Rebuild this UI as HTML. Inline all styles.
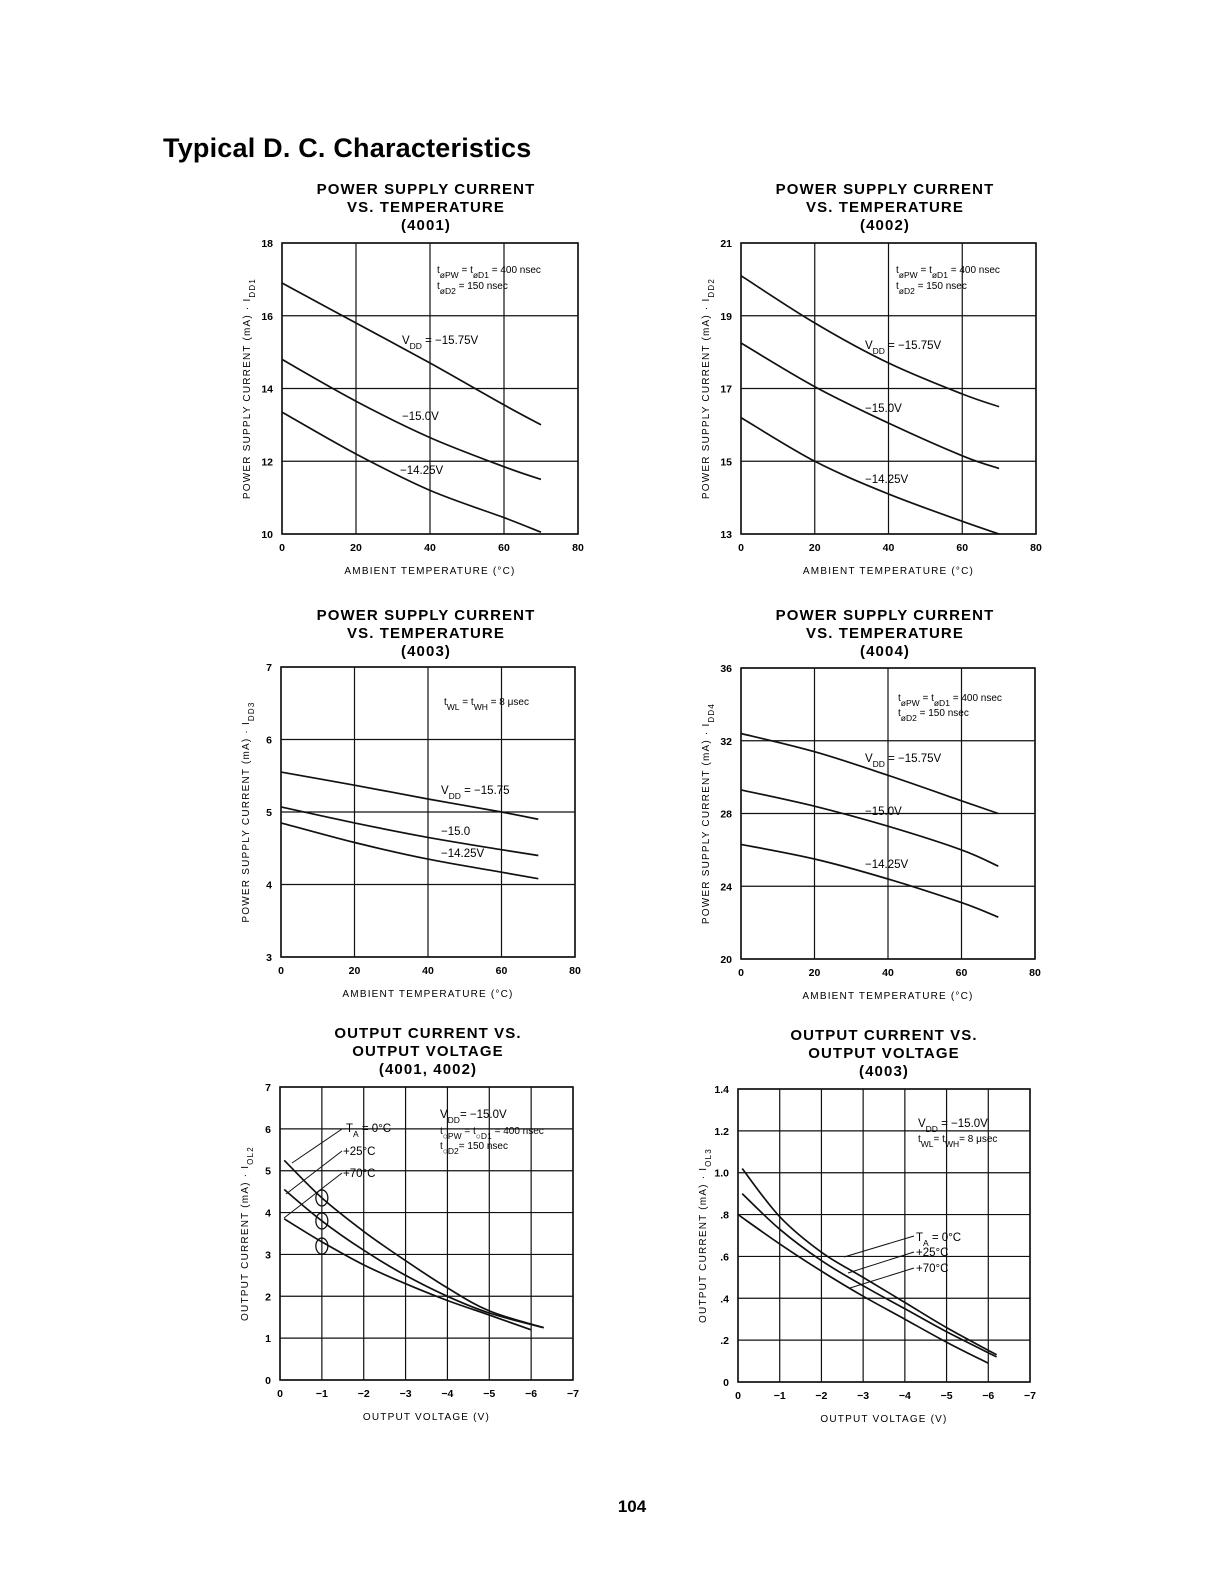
<!DOCTYPE html>
<html><head><meta charset="utf-8"><style>
body{margin:0;background:#fff;}
svg{display:block;font-family:"Liberation Sans",sans-serif;}
</style></head><body>
<svg id="page" width="1224" height="1584" viewBox="0 0 1224 1584" xmlns="http://www.w3.org/2000/svg">
<text x="163" y="157" font-size="27" font-weight="bold" letter-spacing="0.2">Typical D. C. Characteristics</text>
<text x="632" y="1512" font-size="17" font-weight="bold" text-anchor="middle">104</text>
<g id="charts"></g>
</svg>
<script>
// ---- Chart 1 (4001) data
const c1Temps = [0, 20, 40, 60, 70];
const c1V1575 = [16.9, 15.8, 14.7, 13.55, 13.0];
const c1V150 = [14.8, 13.65, 12.65, 11.85, 11.5];
const c1V1425 = [13.35, 12.2, 11.2, 10.45, 10.05];
const c1YTicks = [10, 12, 14, 16, 18];
// ---- Chart 2 (4002)
const c2Temps = [0, 20, 40, 60, 70];
const c2V1575 = [20.1, 18.8, 17.7, 16.85, 16.5];
const c2V150 = [18.25, 17.05, 16.05, 15.15, 14.8];
const c2V1425 = [16.2, 15.0, 14.1, 13.35, 13.0];
const c2YTicks = [13, 15, 17, 19, 21];
// ---- Chart 3 (4003)
const c3Temps = [0, 20, 40, 60, 70];
const c3V1575 = [5.55, 5.37, 5.18, 5.0, 4.9];
const c3V150 = [5.07, 4.85, 4.65, 4.48, 4.4];
const c3V1425 = [4.85, 4.58, 4.35, 4.17, 4.08];
const c3YTicks = [3, 4, 5, 6, 7];
// ---- Chart 4 (4004)
const c4Temps = [0, 20, 40, 60, 70];
const c4V1575 = [32.4, 31.4, 30.1, 28.7, 28.0];
const c4V150 = [29.3, 28.4, 27.3, 26.0, 25.1];
const c4V1425 = [26.3, 25.5, 24.4, 23.1, 22.3];
const c4YTicks = [20, 24, 28, 32, 36];
const tempTicks = [0, 20, 40, 60, 80];
// ---- Chart 5 (output current 4001/4002), voltage magnitude
const c5Volts = [0.1, 1, 2, 3, 4, 5, 6.3];
const c5T0 = [5.25, 4.35, 3.55, 2.85, 2.2, 1.65, 1.25];
const c5T25 = [4.55, 3.8, 3.1, 2.5, 2.0, 1.6, 1.25];
const c5Volts70 = [0.1, 1, 2, 3, 4, 5, 6];
const c5T70 = [3.85, 3.3, 2.75, 2.3, 1.9, 1.55, 1.2];
const c5YTicks = [0, 1, 2, 3, 4, 5, 6, 7];
// ---- Chart 6 (output current 4003)
const c6Volts = [0.1, 1, 2, 3, 4, 5, 6.2];
const c6T0 = [1.02, 0.79, 0.62, 0.50, 0.38, 0.26, 0.13];
const c6T25 = [0.90, 0.73, 0.58, 0.46, 0.35, 0.24, 0.12];
const c6Volts70 = [0, 1, 2, 3, 4, 5, 6];
const c6T70 = [0.80, 0.66, 0.53, 0.41, 0.30, 0.19, 0.09];
const c6YTicks = [0, 0.2, 0.4, 0.6, 0.8, 1.0, 1.2, 1.4];
const c6YLabels = ["0", ".2", ".4", ".6", ".8", "1.0", "1.2", "1.4"];
const voltTicks = [0, 1, 2, 3, 4, 5, 6, 7];
const voltLabels = ["0", "\u22121", "\u22122", "\u22123", "\u22124", "\u22125", "\u22126", "\u22127"];

const NS = "http://www.w3.org/2000/svg";
const root = document.getElementById('charts');
function mk(tag, attrs, parent, txt){
  const e = document.createElementNS(NS, tag);
  for (const k in attrs) e.setAttribute(k, attrs[k]);
  if (txt !== undefined) e.textContent = txt;
  (parent||root).appendChild(e);
  return e;
}
function smooth(pts){
  let d = "M" + pts[0][0].toFixed(1) + "," + pts[0][1].toFixed(1);
  for (let i = 0; i < pts.length - 1; i++){
    const p0 = pts[Math.max(0,i-1)], p1 = pts[i], p2 = pts[i+1], p3 = pts[Math.min(pts.length-1,i+2)];
    const c1x = p1[0] + (p2[0]-p0[0])/6, c1y = p1[1] + (p2[1]-p0[1])/6;
    const c2x = p2[0] - (p3[0]-p1[0])/6, c2y = p2[1] - (p3[1]-p1[1])/6;
    d += " C" + c1x.toFixed(1)+","+c1y.toFixed(1)+" "+c2x.toFixed(1)+","+c2y.toFixed(1)+" "+p2[0].toFixed(1)+","+p2[1].toFixed(1);
  }
  return d;
}
function chart(cfg){
  const g = mk('g', {});
  
  
  const X = v => cfg.L + (v - cfg.xmin) / (cfg.xmax - cfg.xmin) * (cfg.R - cfg.L);
  const Y = v => cfg.B - (v - cfg.ymin) / (cfg.ymax - cfg.ymin) * (cfg.B - cfg.T);
  cfg.title.forEach((t, i) => {
    const e = mk('text', {x: cfg.tx, y: cfg.ty + i*18, 'font-size': 15, 'font-weight': 'bold', 'text-anchor': 'middle', 'letter-spacing': '1.1'}, g, t);
    
    
  });
  cfg.xticks.forEach((v, i) => {
    const l = mk('line', {x1: X(v), x2: X(v), y1: cfg.T, y2: cfg.B, stroke: '#111', 'stroke-width': 1.2}, g);
    
    
    const t = mk('text', {x: X(v), y: cfg.B + 17, 'font-size': 10.5, 'font-weight': 'bold', 'text-anchor': 'middle'}, g, cfg.xlabels ? cfg.xlabels[i] : String(v));
    
    
  });
  cfg.yticks.forEach((v, i) => {
    const l = mk('line', {x1: cfg.L, x2: cfg.R, y1: Y(v), y2: Y(v), stroke: '#111', 'stroke-width': 1.2}, g);
    
    
    const t = mk('text', {x: cfg.L - 9, y: Y(v) + 4, 'font-size': 10.5, 'font-weight': 'bold', 'text-anchor': 'end'}, g, cfg.ylabels ? cfg.ylabels[i] : String(v));
    
    
  });
  const box = mk('rect', {x: cfg.L, y: cfg.T, width: cfg.R - cfg.L, height: cfg.B - cfg.T, fill: 'none', stroke: '#111', 'stroke-width': 1.6}, g);
  
  
  const xt = mk('text', {x: (cfg.L + cfg.R)/2, y: cfg.B + 40, 'font-size': 10, 'text-anchor': 'middle', 'letter-spacing': '1.2'}, g, cfg.xtitle);
  
  
  const yc = (cfg.T + cfg.B)/2, yx = cfg.L - 32;
  const yt = mk('text', {x: yx, y: yc, 'font-size': 10, 'text-anchor': 'middle', 'letter-spacing': '1.2', transform: 'rotate(-90 ' + yx + ' ' + yc + ')'}, g);
  
  
  mk('tspan', {}, yt, cfg.ytitle + ' I');
  mk('tspan', {'baseline-shift': 'sub', 'font-size': 8}, yt, cfg.ysub);
  cfg.series.forEach(s => {
    const pts = s.x.map((v, i) => [X(v), Y(s.y[i])]);
    const p = mk('path', {d: smooth(pts), fill: 'none', stroke: '#111', 'stroke-width': 1.7}, g);
    
    
  });
  cfg.notes.forEach(n => {
    const t = mk('text', {x: cfg.L + n[0], y: cfg.T + n[1], 'font-size': n[3] || 11.5, 'text-anchor': 'start'}, g);
    
    
    n[2].forEach(part => {
      mk('tspan', part[1] ? {'baseline-shift': 'sub', 'font-size': 8.5} : {}, t, part[0]);
    });
  });
  (cfg.leaders || []).forEach(ld => {
    const l = mk('line', {x1: cfg.L + ld[0], y1: cfg.T + ld[1], x2: cfg.L + ld[2], y2: cfg.T + ld[3], stroke: '#111', 'stroke-width': 1}, g);
    
    
  });
  return {g, X, Y};
}
const tempTitle = 'AMBIENT TEMPERATURE (\u00b0C)';
const psTitle = 'POWER SUPPLY CURRENT (mA) \u00b7';
function psNotes(a, b, c){
  return [
    [155, 30, [['t',0],['\u00f8PW',1],[' = t',0],['\u00f8D1',1],[' = 400 nsec',0]], 10],
    [155, 46, [['t',0],['\u00f8D2',1],[' = 150 nsec',0]], 10],
    [a[0], a[1], [['V',0],['DD',1],[' = \u221215.75V',0]]],
    [b[0], b[1], [['\u221215.0V',0]]],
    [c[0], c[1], [['\u221214.25V',0]]]
  ];
}
chart({name:'chart-4001', L:282, R:578, T:243, B:534, xmin:0, xmax:80, ymin:10, ymax:18,
  tx:426, ty:194, title:['POWER SUPPLY CURRENT','VS. TEMPERATURE','(4001)'],
  xticks:tempTicks, yticks:c1YTicks, xtitle:tempTitle, ytitle:psTitle, ysub:'DD1',
  series:[{name:'line-vdd-15.75',x:c1Temps,y:c1V1575},{name:'line-vdd-15.0',x:c1Temps,y:c1V150},{name:'line-vdd-14.25',x:c1Temps,y:c1V1425}],
  notes: psNotes([120,101],[120,177],[118,231])});
chart({name:'chart-4002', L:741, R:1036, T:243, B:534, xmin:0, xmax:80, ymin:13, ymax:21,
  tx:885, ty:194, title:['POWER SUPPLY CURRENT','VS. TEMPERATURE','(4002)'],
  xticks:tempTicks, yticks:c2YTicks, xtitle:tempTitle, ytitle:psTitle, ysub:'DD2',
  series:[{name:'line-vdd-15.75',x:c2Temps,y:c2V1575},{name:'line-vdd-15.0',x:c2Temps,y:c2V150},{name:'line-vdd-14.25',x:c2Temps,y:c2V1425}],
  notes: psNotes([124,106],[124,169],[124,240])});
chart({name:'chart-4003', L:281, R:575, T:667, B:957, xmin:0, xmax:80, ymin:3, ymax:7,
  tx:426, ty:620, title:['POWER SUPPLY CURRENT','VS. TEMPERATURE','(4003)'],
  xticks:tempTicks, yticks:c3YTicks, xtitle:tempTitle, ytitle:psTitle, ysub:'DD3',
  series:[{name:'line-vdd-15.75',x:c3Temps,y:c3V1575},{name:'line-vdd-15.0',x:c3Temps,y:c3V150},{name:'line-vdd-14.25',x:c3Temps,y:c3V1425}],
  notes:[[163,38,[['t',0],['WL',1],[' = t',0],['WH',1],[' = 8 \u03bcsec',0]],10],
         [160,127,[['V',0],['DD',1],[' = \u221215.75',0]]],
         [160,168,[['\u221215.0',0]]],[160,190,[['\u221214.25V',0]]]]});
chart({name:'chart-4004', L:741, R:1035, T:668, B:959, xmin:0, xmax:80, ymin:20, ymax:36,
  tx:885, ty:620, title:['POWER SUPPLY CURRENT','VS. TEMPERATURE','(4004)'],
  xticks:tempTicks, yticks:c4YTicks, xtitle:tempTitle, ytitle:psTitle, ysub:'DD4',
  series:[{name:'line-vdd-15.75',x:c4Temps,y:c4V1575},{name:'line-vdd-15.0',x:c4Temps,y:c4V150},{name:'line-vdd-14.25',x:c4Temps,y:c4V1425}],
  notes:[[157,33,[['t',0],['\u00f8PW',1],[' = t',0],['\u00f8D1',1],[' = 400 nsec',0]],10],
         [157,48,[['t',0],['\u00f8D2',1],[' = 150 nsec',0]],10],
         [124,94,[['V',0],['DD',1],[' = \u221215.75V',0]]],
         [124,147,[['\u221215.0V',0]]],[124,200,[['\u221214.25V',0]]]]});
const c5 = chart({name:'chart-output-4001-4002', L:280, R:573, T:1087, B:1380, xmin:0, xmax:7, ymin:0, ymax:7,
  tx:428, ty:1038, title:['OUTPUT CURRENT VS.','OUTPUT VOLTAGE','(4001, 4002)'],
  xticks:voltTicks, xlabels:voltLabels, yticks:c5YTicks, xtitle:'OUTPUT VOLTAGE (V)', ytitle:'OUTPUT CURRENT (mA) \u00b7', ysub:'OL2',
  series:[{name:'line-ta-0c',x:c5Volts,y:c5T0},{name:'line-ta-25c',x:c5Volts,y:c5T25},{name:'line-ta-70c',x:c5Volts70,y:c5T70}],
  notes:[[160,31,[['V',0],['DD',1],['= \u221215.0V',0]]],
         [160,47,[['t',0],['\u25cbPW',1],[' = t',0],['\u25cbD1',1],[' = 400 nsec',0]],10],
         [160,62,[['t',0],['\u25cbD2',1],['= 150 nsec',0]],10],
         [66,45,[['T',0],['A',1],[' = 0\u00b0C',0]]],[63,68,[['+25\u00b0C',0]]],[63,90,[['+70\u00b0C',0]]]],
  leaders:[[62,42,12,76],[62,64,6,107],[62,86,4,131]]});
[[1,4.35],[1,3.8],[1,3.2]].forEach(p => {
  const e = mk('ellipse', {cx: c5.X(p[0]), cy: c5.Y(p[1]), rx: 6, ry: 8, fill: 'none', stroke: '#111', 'stroke-width': 1.3}, c5.g);
  
  
});
chart({name:'chart-output-4003', L:738, R:1030, T:1089, B:1382, xmin:0, xmax:7, ymin:0, ymax:1.4,
  tx:884, ty:1040, title:['OUTPUT CURRENT VS.','OUTPUT VOLTAGE','(4003)'],
  xticks:voltTicks, xlabels:voltLabels, yticks:c6YTicks, ylabels:c6YLabels, xtitle:'OUTPUT VOLTAGE (V)', ytitle:'OUTPUT CURRENT (mA) \u00b7', ysub:'OL3',
  series:[{name:'line-ta-0c',x:c6Volts,y:c6T0},{name:'line-ta-25c',x:c6Volts,y:c6T25},{name:'line-ta-70c',x:c6Volts70,y:c6T70}],
  notes:[[180,38,[['V',0],['DD',1],[' = \u221215.0V',0]]],
         [180,53,[['t',0],['WL',1],['= t',0],['WH',1],['= 8 \u03bcsec',0]],10],
         [178,152,[['T',0],['A',1],[' = 0\u00b0C',0]]],[178,167,[['+25\u00b0C',0]]],[178,183,[['+70\u00b0C',0]]]],
  leaders:[[176,147,106,168],[176,163,110,184],[176,179,112,199]]});
</script>
</body></html>
